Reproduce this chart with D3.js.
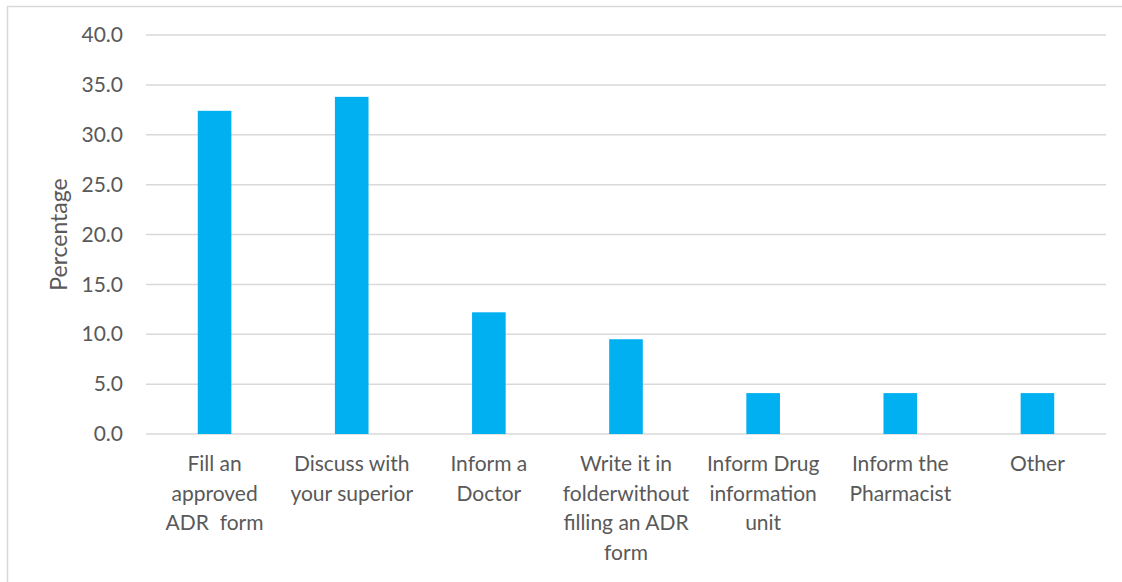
<!DOCTYPE html>
<html>
<head>
<meta charset="utf-8">
<script src="https://cdn.jsdelivr.net/npm/d3@7"></script>
<style>
  html, body { margin: 0; padding: 0; background: #fff; }
  svg { display: block; }
  text { font-family: Lato, "Liberation Sans", sans-serif; fill: #595959; }
</style>
</head>
<body>
<svg id="chart" width="1122" height="582"></svg>
<script>
// Responses: action taken when an adverse drug reaction is observed
const categories = [
  ["Fill an", "approved", "ADR  form"],
  ["Discuss with", "your superior"],
  ["Inform a", "Doctor"],
  ["Write it in", "folderwithout", "filling an ADR", "form"],
  ["Inform Drug", "information", "unit"],
  ["Inform the", "Pharmacist"],
  ["Other"]
];
const percentages = [32.4, 33.8, 12.2, 9.5, 4.1, 4.1, 4.1];
const yTicks = [0, 5, 10, 15, 20, 25, 30, 35, 40];
const yTitle = "Percentage";

const svg = d3.select("#chart");
const W = 1122, H = 582;
const plot = { left: 146, right: 1106, top: 35, bottom: 434 };

// outer chart frame (top and left edges visible)
svg.append("path")
  .attr("d", `M7.5,${H} V6.5 H${W}`)
  .attr("fill", "none")
  .attr("stroke", "#d9d9d9")
  .attr("stroke-width", 1.5);

const x = d3.scaleBand()
  .domain(d3.range(categories.length))
  .range([plot.left, plot.right])
  .paddingInner(0.755)
  .paddingOuter(0.3775);

const y = d3.scaleLinear().domain([0, 40]).range([plot.bottom, plot.top]);

// gridlines
svg.append("g")
  .selectAll("line")
  .data(yTicks)
  .join("line")
  .attr("x1", plot.left)
  .attr("x2", plot.right)
  .attr("y1", d => y(d))
  .attr("y2", d => y(d))
  .attr("stroke", "#d9d9d9")
  .attr("stroke-width", 1.5);

// y axis labels
const yAxis = d3.axisLeft(y)
  .tickValues(yTicks)
  .tickFormat(d3.format(".1f"))
  .tickSize(0)
  .tickPadding(23);
const yg = svg.append("g")
  .attr("transform", `translate(${plot.left},0)`)
  .call(yAxis);
yg.select(".domain").remove();
yg.selectAll("text")
  .attr("font-size", 21)
  .attr("font-family", "Lato, 'Liberation Sans', sans-serif")
  .attr("fill", "#595959");

// bars
svg.append("g")
  .selectAll("rect")
  .data(percentages)
  .join("rect")
  .attr("x", (d, i) => x(i))
  .attr("width", x.bandwidth())
  .attr("y", d => y(d))
  .attr("height", d => y(0) - y(d))
  .attr("fill", "#00b0f0");

// category labels (multi-line)
const cx = svg.append("g")
  .selectAll("text")
  .data(categories)
  .join("text")
  .attr("text-anchor", "middle")
  .attr("font-size", 21)
  .attr("transform", (d, i) => `translate(${x(i) + x.bandwidth() / 2},471)`);
cx.selectAll("tspan")
  .data(d => d)
  .join("tspan")
  .attr("x", 0)
  .attr("dy", (d, j) => j === 0 ? 0 : 29.5)
  .attr("xml:space", "preserve")
  .style("white-space", "pre")
  .text(d => d);

// y axis title
svg.append("text")
  .attr("transform", `translate(67,${(plot.top + plot.bottom) / 2}) rotate(-90)`)
  .attr("text-anchor", "middle")
  .attr("font-size", 23)
  .text(yTitle);
</script>
</body>
</html>
